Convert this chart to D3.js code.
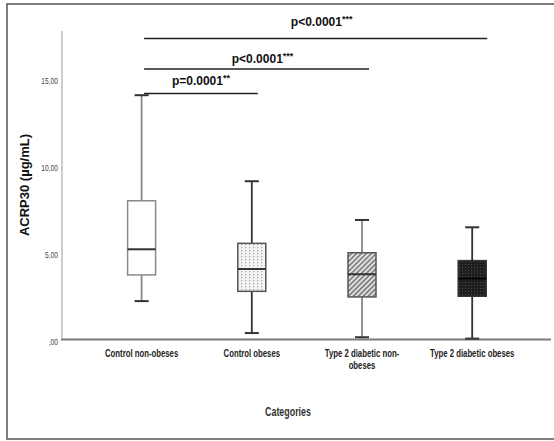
<!DOCTYPE html>
<html>
<head>
<meta charset="utf-8">
<script src="https://cdn.jsdelivr.net/npm/d3@7"></script>
<style>
  body { margin: 0; background: #fff; }
  svg { display: block; }
</style>
</head>
<body>
<div id="chart"></div>
<script>
// Box plot data (ACRP30, µg/mL)
const categories = ["Control non-obeses", "Control obeses", "Type 2 diabetic non-obeses", "Type 2 diabetic obeses"];
const categoryLines = [["Control non-obeses"], ["Control obeses"], ["Type 2 diabetic non-", "obeses"], ["Type 2 diabetic obeses"]];
const whiskerLow  = [2.2, 0.37, 0.13, 0.05];
const q1Values    = [3.7, 2.76, 2.44, 2.48];
const medians     = [5.17, 4.04, 3.74, 3.49];
const q3Values    = [7.95, 5.51, 4.97, 4.52];
const whiskerHigh = [14.0, 9.07, 6.85, 6.43];
const yTicks = [0, 5, 10, 15];
const yTickLabels = [",00", "5,00", "10,00", "15,00"];

// significance brackets: from category index, to category index, label
const sigFrom   = [0, 0, 0];
const sigTo     = [1, 2, 3];
const sigLabels = ["p=0.0001", "p<0.0001", "p<0.0001"];
const sigStars  = ["**", "***", "***"];

const W = 554, H = 441;
const svg = d3.select("#chart").append("svg")
    .attr("width", W)
    .attr("height", H);

// no narrow font installed, so squeeze the regular one
const narrow = 0.74;

// patterns for the boxes
const defs = svg.append("defs");

const dots = defs.append("pattern").attr("id", "dots")
    .attr("patternUnits", "userSpaceOnUse").attr("width", 4).attr("height", 3);
dots.append("rect").attr("width", 4).attr("height", 3).attr("fill", "#f4f4f4");
dots.append("rect").attr("x", 1).attr("y", 1).attr("width", 1.3).attr("height", 1.3).attr("fill", "#a8a8a8");

const hatch = defs.append("pattern").attr("id", "hatch")
    .attr("patternUnits", "userSpaceOnUse").attr("width", 3.5).attr("height", 3.5)
    .attr("patternTransform", "rotate(45)");
hatch.append("rect").attr("width", 3.5).attr("height", 3.5).attr("fill", "#e2e2e2");
hatch.append("rect").attr("x", 0).attr("width", 1.6).attr("height", 3.5).attr("fill", "#7a7a7a");

const dark = defs.append("pattern").attr("id", "dark")
    .attr("patternUnits", "userSpaceOnUse").attr("width", 3).attr("height", 3);
dark.append("rect").attr("width", 3).attr("height", 3).attr("fill", "#1e1e1e");
dark.append("rect").attr("width", 1).attr("height", 1).attr("fill", "#4a4a4a");

const fills = ["#ffffff", "url(#dots)", "url(#hatch)", "url(#dark)"];
const boxStroke = ["#8a8a8a", "#555", "#555", "#333"];
const whiskerStroke = ["#888", "#333", "#888", "#333"];

// outer frame
svg.append("rect")
    .attr("x", 7).attr("y", 4)
    .attr("width", 600).attr("height", 435)
    .attr("fill", "none")
    .attr("stroke", "#555")
    .attr("stroke-width", 1.5);

// scales
const x = d3.scaleBand()
    .domain(categories)
    .range([86.5, 527.3])
    .paddingInner(0)
    .paddingOuter(0);

const y = d3.scaleLinear()
    .domain([0, 18])
    .range([339.5, 25.4]);

const cx = c => x(c) + x.bandwidth() / 2;
const boxW = 28, capW = 14;

// y axis line
svg.append("line")
    .attr("x1", 62).attr("x2", 62)
    .attr("y1", 31).attr("y2", y(0))
    .attr("stroke", "#bdbdbd")
    .attr("stroke-width", 1.5);

// y axis labels
const yAxis = d3.axisLeft(y)
    .tickValues(yTicks)
    .tickSize(0)
    .tickPadding(0)
    .tickFormat((d, i) => yTickLabels[i]);

const yg = svg.append("g")
    .attr("transform", "translate(58,0)")
    .call(yAxis);
yg.select(".domain").remove();
yg.selectAll(".tick text")
    .attr("font-family", "'Liberation Sans', Arial, sans-serif")
    .attr("font-size", 9)
    .attr("fill", "#444")
    .attr("x", 0)
    .attr("dy", "0.6em")
    .attr("transform", `scale(${narrow},1)`);

// x axis line
svg.append("line")
    .attr("x1", 61).attr("x2", 551)
    .attr("y1", y(0)).attr("y2", y(0))
    .attr("stroke", "#7a7a7a")
    .attr("stroke-width", 2);

// category labels
const xl = svg.append("g");
categories.forEach((c, i) => {
    const t = xl.append("text")
        .attr("transform", `translate(${cx(c)},357) scale(${narrow},1)`)
        .attr("text-anchor", "middle")
        .attr("font-family", "'Liberation Sans', Arial, sans-serif")
        .attr("font-weight", "bold")
        .attr("font-size", 10.5)
        .attr("fill", "#222");
    categoryLines[i].forEach((line, j) => {
        t.append("tspan")
            .attr("x", 0)
            .attr("dy", j === 0 ? 0 : 12)
            .text(line);
    });
});

// axis titles
svg.append("text")
    .attr("transform", `translate(288,416) scale(${narrow},1)`)
    .attr("text-anchor", "middle")
    .attr("font-family", "'Liberation Sans', Arial, sans-serif")
    .attr("font-weight", "bold")
    .attr("font-size", 12)
    .attr("fill", "#333")
    .text("Categories");

svg.append("text")
    .attr("transform", "translate(29,185) rotate(-90)")
    .attr("text-anchor", "middle")
    .attr("font-family", "'Liberation Sans', Arial, sans-serif")
    .attr("font-weight", "bold")
    .attr("font-size", 13)
    .attr("fill", "#111")
    .text("ACRP30 (µg/mL)");

// boxes
const boxes = svg.append("g");
categories.forEach((c, i) => {
    const g = boxes.append("g");
    const xc = cx(c);
    // whisker stems
    g.append("line")
        .attr("x1", xc).attr("x2", xc)
        .attr("y1", y(whiskerHigh[i])).attr("y2", y(q3Values[i]))
        .attr("stroke", whiskerStroke[i]).attr("stroke-width", 1.8);
    g.append("line")
        .attr("x1", xc).attr("x2", xc)
        .attr("y1", y(q1Values[i])).attr("y2", y(whiskerLow[i]))
        .attr("stroke", whiskerStroke[i]).attr("stroke-width", 1.8);
    // caps
    [whiskerHigh[i], whiskerLow[i]].forEach(v => {
        g.append("line")
            .attr("x1", xc - capW / 2).attr("x2", xc + capW / 2)
            .attr("y1", y(v)).attr("y2", y(v))
            .attr("stroke", "#333").attr("stroke-width", 2);
    });
    // box
    g.append("rect")
        .attr("x", xc - boxW / 2)
        .attr("y", y(q3Values[i]))
        .attr("width", boxW)
        .attr("height", y(q1Values[i]) - y(q3Values[i]))
        .attr("fill", fills[i])
        .attr("stroke", boxStroke[i])
        .attr("stroke-width", 1.5);
    // median
    g.append("line")
        .attr("x1", xc - boxW / 2).attr("x2", xc + boxW / 2)
        .attr("y1", y(medians[i])).attr("y2", y(medians[i]))
        .attr("stroke", i === 3 ? "#000" : "#333")
        .attr("stroke-width", 2);
});

// significance brackets, stacked from the bottom up
const bracketY = [93.5, 69, 38.5];
const labelY = [85, 63, 26];
const sig = svg.append("g");
sigLabels.forEach((lab, i) => {
    const x1 = cx(categories[sigFrom[i]]) + 2.5;
    const x2 = i === 0 ? cx(categories[sigTo[i]]) + 6 : cx(categories[sigTo[i]]) + 7 + (i === 2 ? 8 : 0);
    sig.append("line")
        .attr("x1", x1).attr("x2", x2)
        .attr("y1", bracketY[i]).attr("y2", bracketY[i])
        .attr("stroke", "#222")
        .attr("stroke-width", 1.3);
    const t = sig.append("text")
        .attr("x", (x1 + x2) / 2 + (i === 0 ? 0 : 6))
        .attr("y", labelY[i])
        .attr("text-anchor", "middle")
        .attr("font-family", "'Liberation Sans', Arial, sans-serif")
        .attr("font-weight", "bold")
        .attr("font-size", 12)
        .attr("fill", "#111");
    t.append("tspan").text(lab);
    t.append("tspan")
        .attr("font-size", 9)
        .attr("dy", -4)
        .text(sigStars[i]);
});
</script>
</body>
</html>
